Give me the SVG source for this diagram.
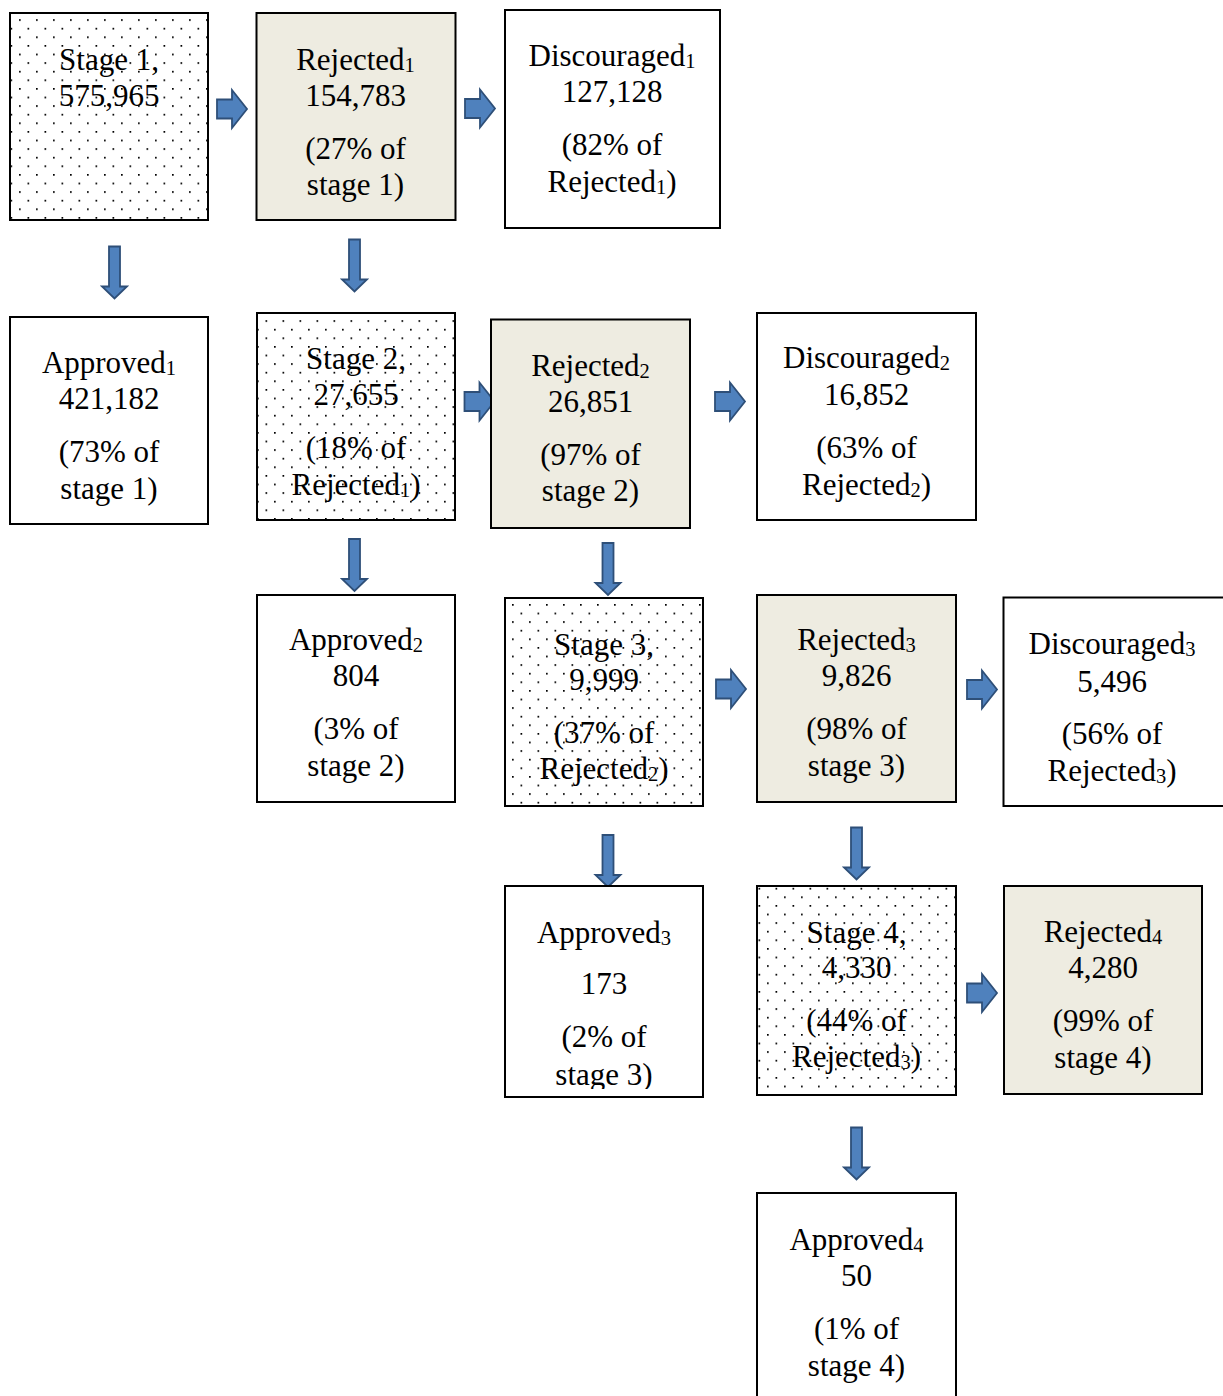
<svg xmlns="http://www.w3.org/2000/svg" xmlns:xlink="http://www.w3.org/1999/xlink" width="1223" height="1396" viewBox="0 0 1223 1396">
<style>
.box{stroke:#000;stroke-width:2}
.white{fill:#fff}
.beige{fill:#EEECE1}
.dots{fill:url(#dotpat)}
text{font-family:"Liberation Serif","Times New Roman",serif;font-size:31px;fill:#000;text-anchor:middle}
.sub{font-size:20.5px}
.arrow{fill:#4F81BD;stroke:#2E4F78;stroke-width:1.8;stroke-linejoin:miter}
</style>
<defs>
<pattern id="dotpat" patternUnits="userSpaceOnUse" x="2" y="2" width="17" height="17.2">
<rect width="17" height="17.2" fill="#fff"/>
<rect x="0" y="0" width="1.7" height="1.7" fill="#000"/>
<rect x="8.5" y="8.6" width="1.7" height="1.7" fill="#000"/>
</pattern>
<path id="ra" d="M0,-9.5 H15 V-19 L30,0 L15,19 V9.5 H0 Z"/>
<path id="da" d="M-5.5,0 H5.5 V40 H12.5 L0,52 L-12.5,40 H-5.5 Z"/>
<clipPath id="clipApp3"><rect x="505" y="886" width="198" height="203"/></clipPath>
</defs>

<g id="connectors">
<use href="#ra" class="arrow" x="217" y="109"/>
<use href="#ra" class="arrow" x="465" y="108.5"/>
<use href="#ra" class="arrow" x="464.5" y="401.5"/>
<use href="#ra" class="arrow" x="715" y="401.5"/>
<use href="#ra" class="arrow" x="716" y="689"/>
<use href="#ra" class="arrow" x="967" y="689.5"/>
<use href="#ra" class="arrow" x="967" y="993"/>
<use href="#da" class="arrow" x="114.5" y="246.5"/>
<use href="#da" class="arrow" x="354.5" y="239.5"/>
<use href="#da" class="arrow" x="354.5" y="539"/>
<use href="#da" class="arrow" x="608" y="543"/>
<use href="#da" class="arrow" x="608" y="835"/>
<use href="#da" class="arrow" x="856.5" y="827.5"/>
<use href="#da" class="arrow" x="856.5" y="1127.5"/>
</g>

<g id="stage1">
<rect class="box dots" x="10" y="13" width="198" height="207"/>
<text x="109" y="70">Stage 1,</text>
<text x="109" y="106">575,965</text>
</g>

<g id="rejected1">
<rect class="box beige" x="256.5" y="13" width="199" height="207"/>
<text x="355.5" y="69.5">Rejected<tspan class="sub" dy="2">1</tspan></text>
<text x="355.5" y="105.5">154,783</text>
<text x="355.5" y="158.5">(27% of</text>
<text x="355.5" y="195">stage 1)</text>
</g>

<g id="discouraged1">
<rect class="box white" x="505" y="10" width="215" height="218"/>
<text x="612" y="66">Discouraged<tspan class="sub" dy="2">1</tspan></text>
<text x="612" y="102">127,128</text>
<text x="612" y="155">(82% of</text>
<text x="612" y="192">Rejected<tspan class="sub" dy="2">1</tspan><tspan dy="-2">)</tspan></text>
</g>

<g id="approved1">
<rect class="box white" x="10" y="317" width="198" height="207"/>
<text x="109" y="373">Approved<tspan class="sub" dy="2">1</tspan></text>
<text x="109" y="409">421,182</text>
<text x="109" y="462">(73% of</text>
<text x="109" y="499">stage 1)</text>
</g>

<g id="stage2">
<rect class="box dots" x="257" y="313" width="198" height="207"/>
<text x="356" y="369">Stage 2,</text>
<text x="356" y="405">27,655</text>
<text x="356" y="458">(18% of</text>
<text x="356" y="495">Rejected<tspan class="sub" dy="2">1</tspan><tspan dy="-2">)</tspan></text>
</g>

<g id="rejected2">
<rect class="box beige" x="491" y="319.5" width="199" height="208.5"/>
<text x="590.5" y="375.5">Rejected<tspan class="sub" dy="2">2</tspan></text>
<text x="590.5" y="412">26,851</text>
<text x="590.5" y="465">(97% of</text>
<text x="590.5" y="501">stage 2)</text>
</g>

<g id="discouraged2">
<rect class="box white" x="757" y="313" width="219" height="207"/>
<text x="866.5" y="368">Discouraged<tspan class="sub" dy="2">2</tspan></text>
<text x="866.5" y="405">16,852</text>
<text x="866.5" y="458">(63% of</text>
<text x="866.5" y="495">Rejected<tspan class="sub" dy="2">2</tspan><tspan dy="-2">)</tspan></text>
</g>

<g id="approved2">
<rect class="box white" x="257" y="595" width="198" height="207"/>
<text x="356" y="650">Approved<tspan class="sub" dy="2">2</tspan></text>
<text x="356" y="686">804</text>
<text x="356" y="739">(3% of</text>
<text x="356" y="776">stage 2)</text>
</g>

<g id="stage3">
<rect class="box dots" x="505" y="598" width="198" height="208"/>
<text x="604" y="654.5">Stage 3,</text>
<text x="604" y="690">9,999</text>
<text x="604" y="743">(37% of</text>
<text x="604" y="779">Rejected<tspan class="sub" dy="2">2</tspan><tspan dy="-2">)</tspan></text>
</g>

<g id="rejected3">
<rect class="box beige" x="757" y="595" width="199" height="207"/>
<text x="856.5" y="650">Rejected<tspan class="sub" dy="2">3</tspan></text>
<text x="856.5" y="686">9,826</text>
<text x="856.5" y="739">(98% of</text>
<text x="856.5" y="776">stage 3)</text>
</g>

<g id="discouraged3">
<rect class="box white" x="1003.5" y="597.5" width="222" height="208.5"/>
<text x="1112" y="654">Discouraged<tspan class="sub" dy="2">3</tspan></text>
<text x="1112" y="691.5">5,496</text>
<text x="1112" y="744">(56% of</text>
<text x="1112" y="781">Rejected<tspan class="sub" dy="2">3</tspan><tspan dy="-2">)</tspan></text>
</g>

<g id="approved3">
<rect class="box white" x="505" y="886" width="198" height="211"/>
<g clip-path="url(#clipApp3)">
<text x="604" y="943">Approved<tspan class="sub" dy="2">3</tspan></text>
<text x="604" y="994">173</text>
<text x="604" y="1047">(2% of</text>
<text x="604" y="1085">stage 3)</text>
</g>
</g>

<g id="stage4">
<rect class="box dots" x="757" y="886" width="199" height="209"/>
<text x="856.5" y="942.5">Stage 4,</text>
<text x="856.5" y="978">4,330</text>
<text x="856.5" y="1030.5">(44% of</text>
<text x="856.5" y="1067">Rejected<tspan class="sub" dy="2">3</tspan><tspan dy="-2">)</tspan></text>
</g>

<g id="rejected4">
<rect class="box beige" x="1004" y="886" width="198" height="208"/>
<text x="1103" y="942">Rejected<tspan class="sub" dy="2">4</tspan></text>
<text x="1103" y="978">4,280</text>
<text x="1103" y="1031">(99% of</text>
<text x="1103" y="1068">stage 4)</text>
</g>

<g id="approved4">
<rect class="box white" x="757" y="1193" width="199" height="212"/>
<text x="856.5" y="1250">Approved<tspan class="sub" dy="2">4</tspan></text>
<text x="856.5" y="1286">50</text>
<text x="856.5" y="1339">(1% of</text>
<text x="856.5" y="1376">stage 4)</text>
</g>
</svg>
